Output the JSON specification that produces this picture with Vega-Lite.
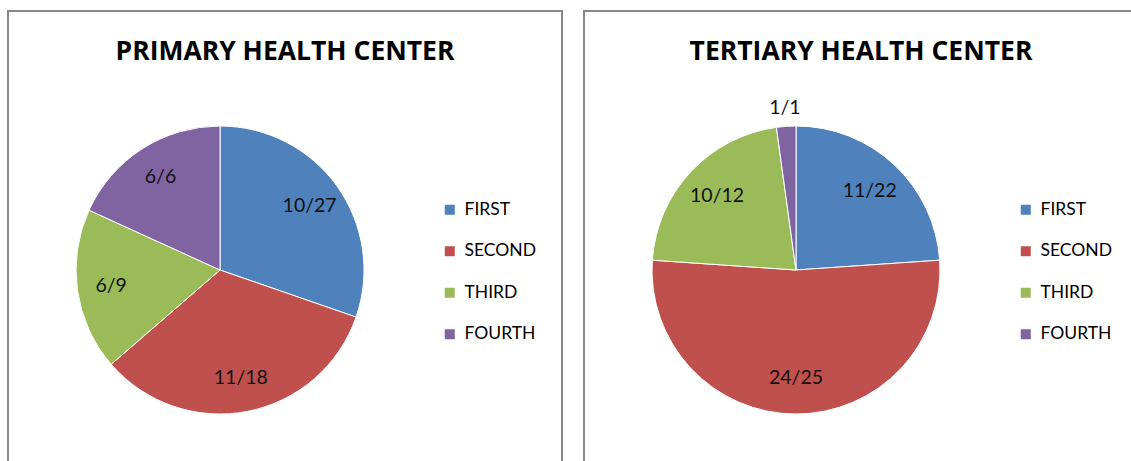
{
  "$schema": "https://vega.github.io/schema/vega-lite/v6.json",
  "padding": {"left": 7, "top": 10, "right": 0, "bottom": 0},
  "background": "white",
  "spacing": 20,
  "data": {"values": [
    {"panel": "PRIMARY", "category": "FIRST", "idx": 1, "value": 10, "label": "10/27"},
    {"panel": "PRIMARY", "category": "SECOND", "idx": 2, "value": 11, "label": "11/18"},
    {"panel": "PRIMARY", "category": "THIRD", "idx": 3, "value": 6, "label": "6/9"},
    {"panel": "PRIMARY", "category": "FOURTH", "idx": 4, "value": 6, "label": "6/6"},
    {"panel": "TERTIARY", "category": "FIRST", "idx": 1, "value": 11, "label": "11/22"},
    {"panel": "TERTIARY", "category": "SECOND", "idx": 2, "value": 24, "label": "24/25"},
    {"panel": "TERTIARY", "category": "THIRD", "idx": 3, "value": 10, "label": "10/12"},
    {"panel": "TERTIARY", "category": "FOURTH", "idx": 4, "value": 1, "label": "1/1"}
  ]},
  "hconcat": [
    {
      "width": 554,
      "height": 460,
      "title": {"text": "PRIMARY HEALTH CENTER"},
      "transform": [{"filter": "datum.panel === 'PRIMARY'"}],
      "layer": [
        {"transform": [{"filter": "datum.idx === 1"}], "mark": {"type": "rect", "fill": "transparent", "stroke": "#878787", "strokeWidth": 2}},
        {"mark": {"type": "arc", "x": 212, "y": 259, "outerRadius": 144, "stroke": "white", "strokeWidth": 1},
         "encoding": {
          "theta": {"field": "value", "type": "quantitative", "stack": true},
          "order": {"field": "idx", "type": "quantitative"},
          "color": {
            "field": "category", "type": "nominal",
            "sort": ["FIRST", "SECOND", "THIRD", "FOURTH"],
            "scale": {"domain": ["FIRST", "SECOND", "THIRD", "FOURTH"], "range": ["#4F81BD", "#C0504D", "#9BBB59", "#8064A2"]},
            "legend": {"title": null}
          }
         }},
        {"mark": {"type": "text", "x": 212, "y": 259, "radius": 110, "fontSize": 19.5, "font": "Lato", "color": "#111"},
         "encoding": {
          "theta": {"field": "value", "type": "quantitative", "stack": true},
          "order": {"field": "idx", "type": "quantitative"},
          "text": {"field": "label"}
         }}
      ]
    },
    {
      "width": 554,
      "height": 460,
      "title": {"text": "TERTIARY HEALTH CENTER"},
      "transform": [{"filter": "datum.panel === 'TERTIARY'"}],
      "layer": [
        {"transform": [{"filter": "datum.idx === 1"}], "mark": {"type": "rect", "fill": "transparent", "stroke": "#878787", "strokeWidth": 2}},
        {"mark": {"type": "arc", "x": 212, "y": 259, "outerRadius": 144, "stroke": "white", "strokeWidth": 1},
         "encoding": {
          "theta": {"field": "value", "type": "quantitative", "stack": true},
          "order": {"field": "idx", "type": "quantitative"},
          "color": {
            "field": "category", "type": "nominal",
            "sort": ["FIRST", "SECOND", "THIRD", "FOURTH"],
            "scale": {"domain": ["FIRST", "SECOND", "THIRD", "FOURTH"], "range": ["#4F81BD", "#C0504D", "#9BBB59", "#8064A2"]},
            "legend": {"title": null}
          }
         }},
        {"mark": {"type": "text", "x": 212, "y": 259, "fontSize": 19.5, "font": "Lato", "color": "#111",
                  "radius": {"expr": "datum.value < 5 ? 162 : 108"}},
         "encoding": {
          "theta": {"field": "value", "type": "quantitative", "stack": true},
          "order": {"field": "idx", "type": "quantitative"},
          "text": {"field": "label"}
         }}
      ]
    }
  ],
  "resolve": {"scale": {"color": "independent", "theta": "independent"}, "legend": {"color": "independent"}},
  "config": {
    "view": {"stroke": null},
    "title": {"font": "Open Sans", "fontSize": 26.5, "fontWeight": "bold", "color": "#000", "anchor": "middle", "baseline": "middle", "offset": -55},
    "legend": {
      "orient": "none", "legendX": 433, "legendY": 190, "padding": 0,
      "symbolType": "square", "symbolSize": 100, "symbolStrokeWidth": 0,
      "labelFont": "Lato", "labelFontSize": 17.5, "labelColor": "#000", "labelOffset": 6,
      "rowPadding": 22.5
    }
  }
}
